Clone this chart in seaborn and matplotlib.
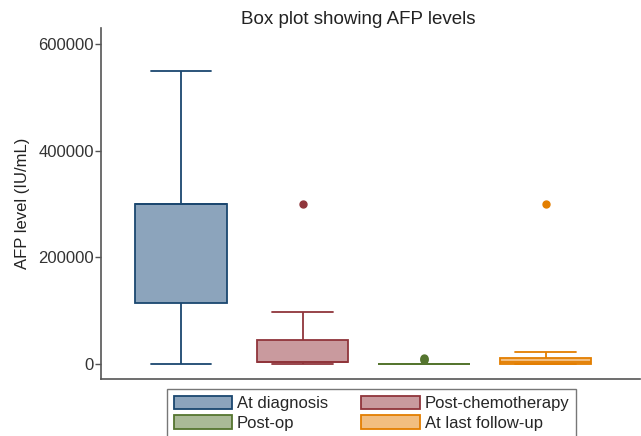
import numpy as np
import pandas as pd
import matplotlib
matplotlib.use("Agg")
import matplotlib.pyplot as plt
import seaborn as sns
from matplotlib.patches import Patch

# ---- data ----
categories = ["At diagnosis", "Post-chemotherapy", "Post-op", "At last follow-up"]
at_diagnosis = [0, 50000, 115000, 200000, 300000, 300000, 300000, 400000, 550000]
post_chemo = [0, 1000, 3000, 3000, 3000, 20000, 45000, 97000, 300000]
post_op = [0, 0, 0, 0, 0, 100, 200, 400, 600, 800, 8000, 10000, 12000]
last_follow_up = [0, 0, 0, 2000, 4000, 8000, 11000, 22000, 300000]
yticks = [0, 200000, 400000, 600000]

fill_colors = ["#8ca4bc", "#c99a9e", "#aaba97", "#f2be80"]
edge_colors = ["#1a476f", "#90353b", "#55752f", "#e37e00"]

series = [at_diagnosis, post_chemo, post_op, last_follow_up]
df = pd.DataFrame({
    "group": np.repeat(categories, [len(s) for s in series]),
    "value": np.concatenate(series),
})

sns.set_style("white")
plt.rcParams["font.family"] = ["Liberation Sans", "DejaVu Sans"]

fig = plt.figure(figsize=(6.41, 4.36), dpi=100)
ax = fig.add_axes([101/641, 1 - 379/436, (640 - 101)/641, (379 - 28)/436])

for cat, fc, ec in zip(categories, fill_colors, edge_colors):
    sub = df[df["group"] == cat]
    sns.boxplot(
        data=sub, x="group", y="value", order=categories, ax=ax,
        color=fc, linecolor=ec, linewidth=1.3, width=0.75, saturation=1,
        capwidths=0.5,
        flierprops=dict(marker="o", markerfacecolor=ec, markeredgecolor=ec,
                        markersize=5),
    )
for patch, ec, fc in zip(ax.patches, edge_colors, fill_colors):
    patch.set_edgecolor(ec)
    patch.set_facecolor(fc)

ax.set_xlim(-80/121.5, 3 + 94.5/121.5)
ax.set_ylim(-28125, 630000)
ax.set_yticks(yticks)
ax.set_yticklabels([str(v) for v in yticks], fontsize=12, color="#333333")
ax.set_xticks([])
ax.set_xlabel("")
ax.set_ylabel("AFP level (IU/mL)", fontsize=12, color="#222222", labelpad=6)
ax.tick_params(axis="y", length=4, width=1, color="#555555", pad=1, left=True)
for side in ["top", "right"]:
    ax.spines[side].set_visible(False)
for side in ["left", "bottom"]:
    ax.spines[side].set_color("#555555")
    ax.spines[side].set_linewidth(1.2)

fig.text(358/641, 1 - 20/436, "Box plot showing AFP levels", ha="center",
         va="center", fontsize=13.5, color="#222222")

handles = [Patch(facecolor=fc, edgecolor=ec, linewidth=1.3)
           for fc, ec in zip(fill_colors, edge_colors)]
order = [0, 2, 1, 3]
leg = fig.legend([handles[i] for i in order], [categories[i] for i in order],
                 ncol=2, loc="upper center",
                 bbox_to_anchor=(371.5/641, 1 - 389/436),
                 fontsize=12, frameon=True, fancybox=False,
                 handlelength=3.5, handleheight=0.85, handletextpad=0.3,
                 columnspacing=2.0, labelspacing=0.26, borderpad=0.4,
                 borderaxespad=0)
leg.get_frame().set_edgecolor("#555555")
leg.get_frame().set_linewidth(1.0)

fig.savefig("out.png", dpi=100)
